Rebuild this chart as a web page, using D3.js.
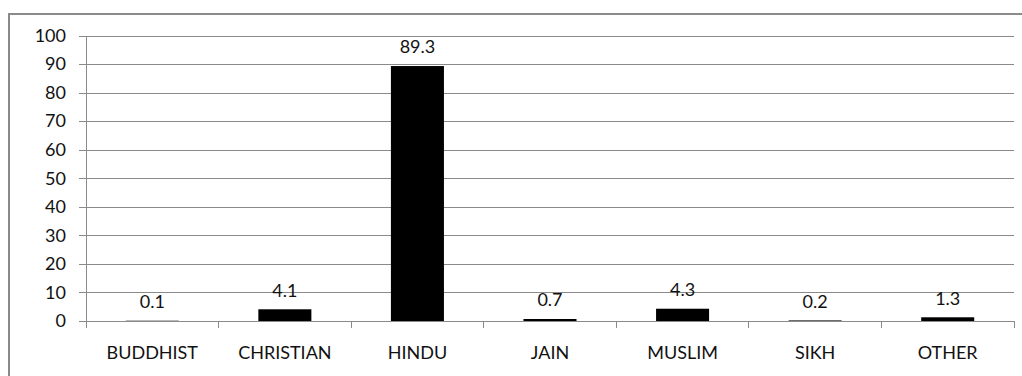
<!DOCTYPE html>
<html>
<head>
<meta charset="utf-8">
<script src="https://cdn.jsdelivr.net/npm/d3@7"></script>
<style>
  html, body { margin: 0; padding: 0; background: #fff; }
  svg { display: block; }
  text { font-family: Lato, "Open Sans", sans-serif; fill: #111; }
</style>
</head>
<body>
<svg id="chart" width="1022" height="376"></svg>
<script>
// Religious composition (%)
const categories = ["BUDDHIST", "CHRISTIAN", "HINDU", "JAIN", "MUSLIM", "SIKH", "OTHER"];
const values = [0.1, 4.1, 89.3, 0.7, 4.3, 0.2, 1.3];
const yTicks = [0, 10, 20, 30, 40, 50, 60, 70, 80, 90, 100];

const svg = d3.select("#chart");
const plot = { left: 86, right: 1014, top: 35.5, bottom: 321 };
const fontSize = 18;

// Frame around the chart area
svg.append("path")
  .attr("d", `M9,400 V14 H1030`)
  .attr("fill", "none")
  .attr("stroke", "#8a8a8a")
  .attr("stroke-width", 2);

const x = d3.scaleBand()
  .domain(categories)
  .range([plot.left, plot.right])
  .paddingInner(0.6)
  .paddingOuter(0.3);

const y = d3.scaleLinear()
  .domain([0, 100])
  .range([plot.bottom, plot.top]);

// Horizontal gridlines with short outer ticks, and y labels
const yAxis = d3.axisLeft(y)
  .tickValues(yTicks)
  .tickSize(-(plot.right - plot.left))
  .tickSizeOuter(0)
  .tickPadding(20);

const gy = svg.append("g")
  .attr("transform", `translate(${plot.left},0)`)
  .call(yAxis);
gy.select(".domain").remove();
gy.selectAll(".tick line")
  .attr("x1", -7)
  .attr("stroke", "#8a8a8a")
  .attr("stroke-width", 1)
  .attr("shape-rendering", "crispEdges");
gy.selectAll(".tick text")
  .attr("font-size", fontSize)
  .attr("font-family", "Lato, 'Open Sans', sans-serif")
  .attr("fill", "#111");

// Vertical axis line
svg.append("line")
  .attr("x1", plot.left).attr("x2", plot.left)
  .attr("y1", plot.top).attr("y2", plot.bottom)
  .attr("stroke", "#8a8a8a")
  .attr("shape-rendering", "crispEdges");

// Category boundary ticks below the baseline
const step = x.step();
const boundaries = d3.range(categories.length + 1).map(i => plot.left + i * step);
svg.append("g").selectAll("line")
  .data(boundaries)
  .join("line")
  .attr("x1", d => d).attr("x2", d => d)
  .attr("y1", plot.bottom).attr("y2", plot.bottom + 7)
  .attr("stroke", "#8a8a8a")
  .attr("shape-rendering", "crispEdges");

// Bars
svg.append("g").selectAll("rect")
  .data(values)
  .join("rect")
  .attr("x", (d, i) => x(categories[i]))
  .attr("width", x.bandwidth())
  .attr("y", d => y(d))
  .attr("height", d => y(0) - y(d))
  .attr("fill", "#000");

// Value labels
svg.append("g").selectAll("text")
  .data(values)
  .join("text")
  .attr("x", (d, i) => x(categories[i]) + x.bandwidth() / 2)
  .attr("y", d => y(d) - 19)
  .attr("dy", "0.35em")
  .attr("text-anchor", "middle")
  .attr("font-size", fontSize)
  .text(d => d);

// Category labels
svg.append("g").selectAll("text")
  .data(categories)
  .join("text")
  .attr("x", d => x(d) + x.bandwidth() / 2)
  .attr("y", 353)
  .attr("dy", "0.35em")
  .attr("text-anchor", "middle")
  .attr("font-size", fontSize)
  .text(d => d);
</script>
</body>
</html>
